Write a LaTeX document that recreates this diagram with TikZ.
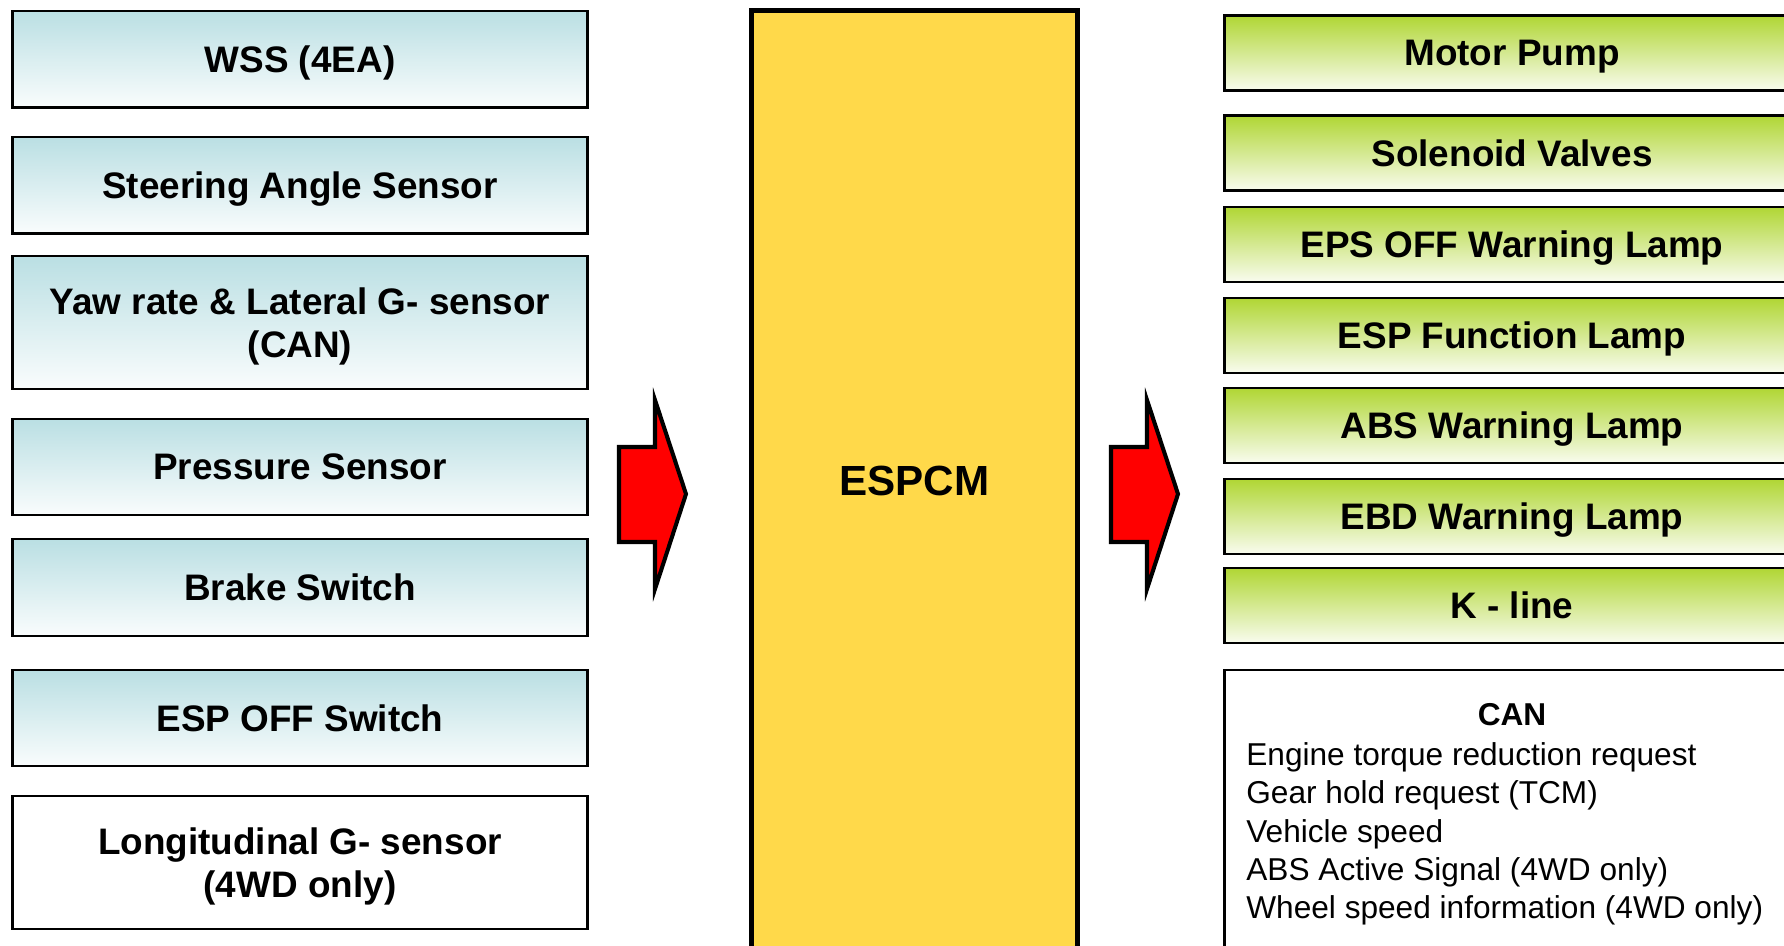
\documentclass[tikz,border=0pt]{standalone}
\usepackage{fontspec}
\setmainfont{Liberation Sans}
\usepackage{tikz}
\usetikzlibrary{positioning}

\definecolor{inblue}{RGB}{186,223,227}
\definecolor{outgreen}{RGB}{176,214,52}
\definecolor{ecuyellow}{RGB}{255,217,74}

\begin{document}
\begin{tikzpicture}[x=0.02cm,y=-0.02cm]
			\tikzstyle{Box}		= [draw, line width=1.4pt, minimum width=11.5cm, align=center, inner sep=0pt, text depth=0pt]
			\tikzstyle{BoldText}	= [font=\fontsize{21}{24.4}\selectfont\bfseries]
			\tikzstyle{Input}	= [Box, BoldText, top color=inblue, bottom color=white!92!inblue, minimum height=1.93cm]
			\tikzstyle{Tall}	= [minimum height=2.66cm]
			\tikzstyle{Plain}	= [Box, BoldText, fill=white]
			\tikzstyle{Output}	= [Box, BoldText, top color=outgreen, bottom color=white!92!outgreen, minimum height=1.5cm]
			\tikzstyle{ECU}		= [draw, line width=2.8pt, fill=ecuyellow, minimum width=6.52cm, minimum height=18.82cm, font=\fontsize{24}{28}\selectfont\bfseries]
			\tikzstyle{BigArrow}	= [draw, line width=2.3pt, fill=red]
			\tikzstyle{ListText}	= [font=\fontsize{18}{21.8}\selectfont, align=left, inner sep=0pt]

			\clip (0,0) rectangle (1784,946);

			% inputs
			\node (in1) at (300,59.3) [Input] {WSS (4EA)};
			\node (in2) at (300,185.4) [Input] {Steering Angle Sensor};
			\node (in3) at (300,322.4) [Input][Tall] {Yaw rate \& Lateral G- sensor\\(CAN)};
			\node (in4) at (300,467) [Input] {Pressure Sensor};
			\node (in5) at (300,587.5) [Input] {Brake Switch};
			\node (in6) at (300,718) [Input] {ESP OFF Switch};
			\node (in7) at (300,862.5) [Plain][Tall] {Longitudinal G- sensor\\(4WD only)};

			% control module
			\node (ecu) at (914.5,481) [ECU] {ESPCM};

			% outputs
			\node (out1) at (1512,53) [Output] {Motor Pump};
			\node (out2) at (1512,153) [Output] {Solenoid Valves};
			\node (out3) at (1512,244.3) [Output] {EPS OFF Warning Lamp};
			\node (out4) at (1512,335.5) [Output] {ESP Function Lamp};
			\node (out5) at (1512,425.5) [Output] {ABS Warning Lamp};
			\node (out6) at (1512,516.5) [Output] {EBD Warning Lamp};
			\node (out7) at (1512,605.5) [Output] {K - line};
			\node (can) at (1512,835) [Box, fill=white, minimum height=6.6cm] {};
			\node (cantitle) at (1512,715) [font=\fontsize{18}{21.8}\selectfont\bfseries, inner sep=0pt] {CAN};
			\node (canlist) at (1246,834) [ListText, anchor=west] {Engine torque reduction request\\Gear hold request (TCM)\\Vehicle speed\\ABS Active Signal (4WD only)\\Wheel speed information (4WD only)};

			% block arrows
			\draw [BigArrow] (619,447) -- (655,447) -- (655,400) -- (686,494) -- (655,589) -- (655,542) -- (619,542) -- cycle;
			\draw [BigArrow] (1111,447) -- (1147,447) -- (1147,400) -- (1178,494) -- (1147,589) -- (1147,542) -- (1111,542) -- cycle;
		\end{tikzpicture}
\end{document}
